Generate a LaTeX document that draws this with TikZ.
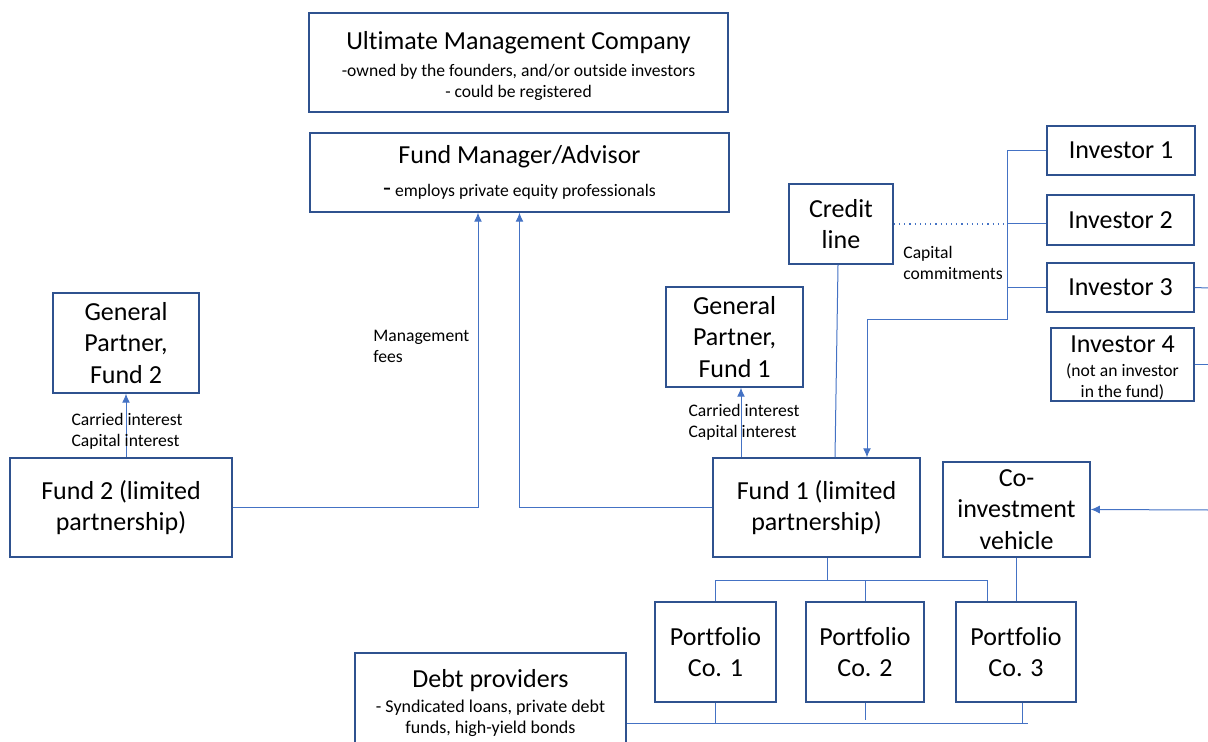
\documentclass[tikz,border=0pt]{standalone}
\usepackage{fontspec}
\setmainfont[Ligatures=NoCommon]{Carlito}
\usetikzlibrary{arrows.meta,calc}
\definecolor{boxc}{HTML}{2F528F}
\definecolor{linec}{HTML}{4472C4}
\newcommand{\fsA}{\fontsize{13pt}{15.6pt}\selectfont}
\newcommand{\fsC}{\fontsize{8.8pt}{10.5pt}\selectfont}
\newcommand{\fsD}{\fontsize{9pt}{10.5pt}\selectfont}
\tikzset{
  box/.style={draw=boxc, line width=0.75pt, inner sep=1pt, align=center, font=\fsA, text=black},
  mixbox/.style={box, font=\fsC},
  conn/.style={draw=linec, line width=0.5pt},
  arr/.style={conn, -{Latex[length=4.5pt,width=4pt]}},
  lbl/.style={font=\fsC, align=left, inner sep=0pt, text=black}
}
\begin{document}
\begin{tikzpicture}[x=0.5pt,y=-0.5pt]
\useasboundingbox (0,0) rectangle (1208,742);
\clip (0,0) rectangle (1208,742);
% boxes
\node[mixbox, minimum width=209.5pt, minimum height=49.5pt] (umc) at (518.5,62.5) {};
\node[mixbox, draw=none, anchor=center] (umct) at (518.5,66)
  {{\fsA Ultimate Management Company}\\[3pt]-owned by the founders, and/or outside investors\\- could be registered};
\node[mixbox, minimum width=209.5pt, minimum height=39.5pt] (fm) at (519.5,172.5)
  {{\fsA Fund Manager/Advisor}\\[6pt]{\fsA -} employs private equity professionals};
\node[box, minimum width=74pt, minimum height=24.5pt] (inv1) at (1121,150.5) {Investor 1};
\node[box, minimum width=73.5pt, minimum height=25pt] (inv2) at (1120.5,220) {Investor 2};
\node[box, minimum width=73.5pt, minimum height=24.5pt] (inv3) at (1120.5,287.5) {Investor 3};
\node[mixbox, minimum width=71.5pt, minimum height=36.5pt] (inv4) at (1122.5,364.5) {};
\node[mixbox, draw=none] (inv4t) at (1122.5,368)
  {{\fsA Investor 4}\\[1.5pt](not an investor\\in the fund)};
\node[box, minimum width=52pt, minimum height=40pt] (credit) at (841,224) {Credit\\line};
\node[box, minimum width=73pt, minimum height=50pt] (gp2) at (126,343) {General\\Partner,\\Fund 2};
\node[box, minimum width=68.5pt, minimum height=50pt] (gp1) at (734.5,337) {General\\Partner,\\Fund 1};
\node[box, minimum width=111pt, minimum height=49.5pt] (fund2) at (121,507.5) {Fund 2 (limited\\partnership)};
\node[box, minimum width=103.5pt, minimum height=49.5pt] (fund1) at (816.5,507.5) {Fund 1 (limited\\partnership)};
\node[box, minimum width=73.5pt, minimum height=47.5pt] (coinv) at (1016.5,509.5) {Co-\\investment\\vehicle};
\node[box, minimum width=60.5pt, minimum height=50pt] (p1) at (715.5,652) {Portfolio\\Co. 1};
\node[box, minimum width=59pt, minimum height=50pt] (p2) at (865,652) {Portfolio\\Co. 2};
\node[box, minimum width=60pt, minimum height=50pt] (p3) at (1016,652) {Portfolio\\Co. 3};
\node[box, font=\fsD, minimum width=135.5pt, minimum height=50pt] (debt) at (490.5,703)
  {{\fsA Debt providers}\\[2pt]- Syndicated loans, private debt\\funds, high-yield bonds};
% helper coordinates
\coordinate (busx) at (1007,320);
\coordinate (pb) at (0,580);
\coordinate (bb) at (0,723);
\coordinate (edge3) at (1208,288);
\coordinate (edge4) at (1208,364.5);
\coordinate (edgec) at (1208,510);
% management fees
\draw[arr] (fund2.east) -| ([xshift=-20.75pt]fm.south);
\draw[arr] (fund1.west) -| (fm.south);
% carried interest
\draw[arr] (gp2.south |- fund2.north) -- (gp2.south);
\draw[arr] ([xshift=3.25pt]gp1.south |- fund1.north) -- ([xshift=3.25pt]gp1.south);
% credit line
\draw[conn] ([xshift=-1.5pt]credit.south) -- ([xshift=9.25pt]fund1.north);
\draw[draw=linec, line width=0.6pt, dotted] (credit.east) -- (credit.east -| busx);
\draw[conn] (credit.east -| busx) -- (credit.east -| inv2.west);
% investors
\draw[conn] (inv1.west) -- (inv1.west -| busx) -- (busx);
\draw[conn] (inv3.west) -- (inv3.west -| busx);
\draw[arr] (busx) -| ([xshift=25.25pt]fund1.north);
\draw[conn] (inv3.east) -- (edge3);
\draw[conn] (inv4.east) -- (edge4);
\draw[arr] (edgec) -- (coinv.east);
% portfolio
\draw[conn] ([xshift=5.25pt]fund1.south) -- ([xshift=5.25pt]fund1.south |- pb);
\draw[conn] (p1.north) |- ([xshift=-14.5pt]p3.north |- pb) -- ([xshift=-14.5pt]p3.north);
\draw[conn] (p2.north) -- (p2.north |- pb);
\draw[conn] (coinv.south) -- (coinv.south |- p3.north);
% debt
\draw[conn] (debt.east |- bb) -- ([xshift=6pt]p3.south |- bb);
\draw[conn] (p1.south) -- (p1.south |- bb);
\draw[conn] (p2.south) -- ([yshift=1.5pt]p2.south |- bb);
\draw[conn] ([xshift=3pt]p3.south) -- ([xshift=3pt]p3.south |- bb);
% labels
\node[lbl, anchor=west] (mfees) at (373,346) {Management\\fees};
\node[lbl, anchor=center] (ci2) at (127,431) {Carried interest\\Capital interest};
\node[lbl, anchor=center] (ci1) at (744,422) {Carried interest\\Capital interest};
\node[lbl, anchor=west] (ccom) at (903,263) {Capital\\commitments};
\end{tikzpicture}
\end{document}
